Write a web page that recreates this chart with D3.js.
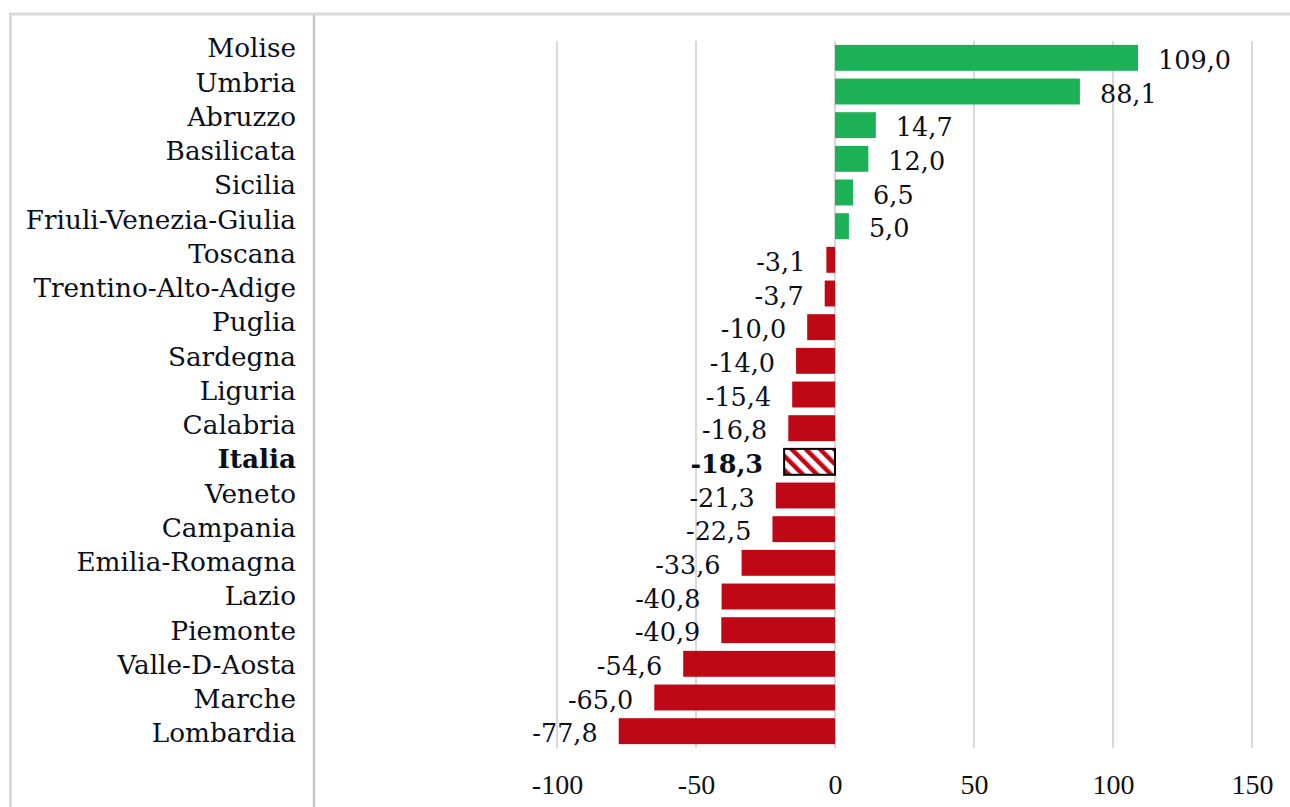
<!DOCTYPE html>
<html>
<head>
<meta charset="utf-8">
<script src="https://cdn.jsdelivr.net/npm/d3@7"></script>
<style>
  html, body { margin: 0; padding: 0; background: #fff; }
  svg { display: block; }
</style>
</head>
<body>
<svg id="chart" width="1290" height="807"></svg>
<script>
// Regional variation (%), sorted from highest to lowest
const regions = [
  "Molise", "Umbria", "Abruzzo", "Basilicata", "Sicilia", "Friuli-Venezia-Giulia",
  "Toscana", "Trentino-Alto-Adige", "Puglia", "Sardegna", "Liguria", "Calabria",
  "Italia", "Veneto", "Campania", "Emilia-Romagna", "Lazio", "Piemonte",
  "Valle-D-Aosta", "Marche", "Lombardia"
];
const values = [
  109.0, 88.1, 14.7, 12.0, 6.5, 5.0,
  -3.1, -3.7, -10.0, -14.0, -15.4, -16.8,
  -18.3, -21.3, -22.5, -33.6, -40.8, -40.9,
  -54.6, -65.0, -77.8
];
const tickValues = [-100, -50, 0, 50, 100, 150];
const totalLabel = "Italia";

const data = regions.map((r, i) => ({ region: r, value: values[i] }));

const svg = d3.select("#chart");

const green = "#1db157";
const red = "#bf0816";
const textColor = "#0b0f1a";
const labelFont = "'DejaVu Serif', serif";

// Hatch for the national total bar
const defs = svg.append("defs");
const pat = defs.append("pattern")
  .attr("id", "hatch")
  .attr("patternUnits", "userSpaceOnUse")
  .attr("width", 10).attr("height", 10)
  .attr("patternTransform", "rotate(-45)");
pat.append("rect").attr("width", 10).attr("height", 10).attr("fill", "#fff");
pat.append("rect").attr("width", 4.5).attr("height", 10).attr("fill", red);

// Frame lines
svg.append("line").attr("x1", 9).attr("x2", 1290).attr("y1", 14).attr("y2", 14)
  .attr("stroke", "#d9d9d9").attr("stroke-width", 3);
svg.append("line").attr("x1", 10.5).attr("x2", 10.5).attr("y1", 13).attr("y2", 807)
  .attr("stroke", "#d9d9d9").attr("stroke-width", 3);
svg.append("line").attr("x1", 314).attr("x2", 314).attr("y1", 15).attr("y2", 807)
  .attr("stroke", "#c8c8c8").attr("stroke-width", 2.5);

// Scales
const x = d3.scaleLinear().domain([-100, 150]).range([557, 1252]);
const y = d3.scaleBand().domain(regions).range([41, 748]).paddingInner(0.23).paddingOuter(0.115);
const yLabel = d3.scalePoint().domain(regions).range([48, 733]);

// Vertical gridlines
svg.append("g").selectAll("line")
  .data(tickValues)
  .join("line")
  .attr("x1", d => x(d)).attr("x2", d => x(d))
  .attr("y1", 41).attr("y2", 748)
  .attr("stroke", "#d9d9d9").attr("stroke-width", 2);

// Bars
svg.append("g").selectAll("rect")
  .data(data)
  .join("rect")
  .attr("x", d => x(Math.min(0, d.value)))
  .attr("width", d => Math.abs(x(d.value) - x(0)))
  .attr("y", d => y(d.region))
  .attr("height", y.bandwidth())
  .attr("fill", d => d.region === totalLabel ? "url(#hatch)" : (d.value >= 0 ? green : red))
  .attr("stroke", d => d.region === totalLabel ? "#000" : "none")
  .attr("stroke-width", 2);

// Value labels
const fmt = v => d3.format(".1f")(v).replace(".", ",").replace("−", "-");
svg.append("g").selectAll("text")
  .data(data)
  .join("text")
  .attr("x", d => d.value >= 0 ? x(d.value) + 20 : x(d.value) - 21)
  .attr("y", d => y(d.region) + y.bandwidth() / 2 + 2)
  .attr("dy", "0.36em")
  .attr("text-anchor", d => d.value >= 0 ? "start" : "end")
  .attr("font-family", labelFont)
  .attr("font-size", 25.5)
  .attr("font-weight", d => d.region === totalLabel ? "bold" : "normal")
  .attr("fill", textColor)
  .text(d => fmt(d.value));

// Category labels
svg.append("g").selectAll("text")
  .data(regions)
  .join("text")
  .attr("x", 296)
  .attr("y", d => yLabel(d))
  .attr("dy", "0.36em")
  .attr("text-anchor", "end")
  .attr("font-family", labelFont)
  .attr("font-size", 26.3)
  .attr("font-weight", d => d === totalLabel ? "bold" : "normal")
  .attr("fill", textColor)
  .text(d => d);

// X axis tick labels
const xAxis = d3.axisBottom(x).tickValues(tickValues).tickSize(0).tickPadding(0)
  .tickFormat(d => String(d));
const ax = svg.append("g").attr("transform", "translate(0,774)").call(xAxis);
ax.select(".domain").remove();
ax.selectAll("text")
  .attr("font-family", "'Liberation Serif', serif")
  .attr("font-size", 28)
  .attr("fill", "#111");
</script>
</body>
</html>
